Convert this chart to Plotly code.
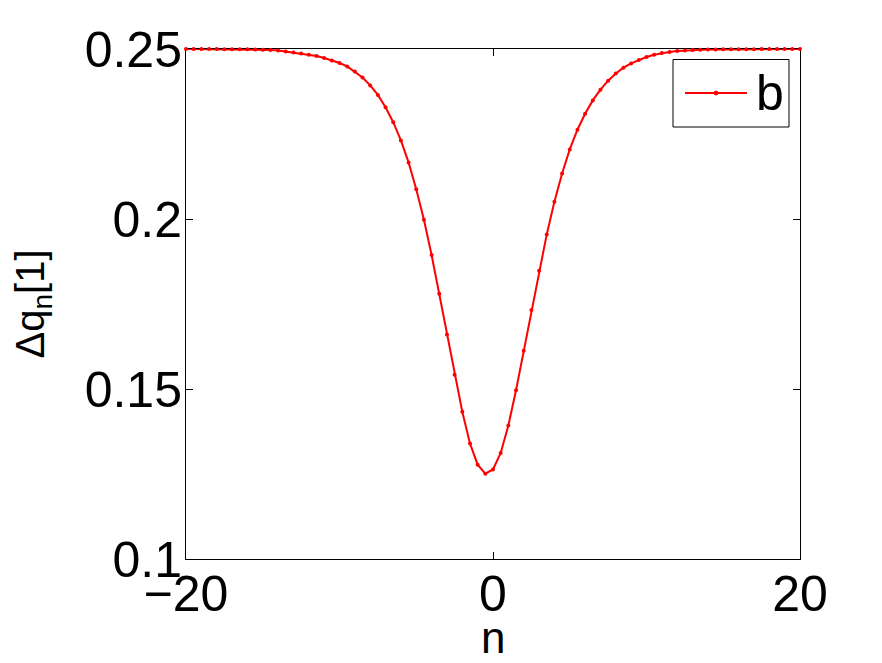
import plotly.graph_objects as go

# n values: -20 to 20 in steps of 0.5
n_vals = [i * 0.5 for i in range(-40, 41)]

dq_vals = [
    0.25000, 0.24999, 0.24999, 0.24998, 0.24997, 0.24996, 0.24994, 0.24992,  # -20 .. -16.5
    0.24989, 0.24985, 0.24979, 0.24971, 0.24959, 0.24929, 0.24900, 0.24871,  # -16 .. -12.5
    0.24832, 0.24794, 0.24735, 0.24665, 0.24588, 0.24488, 0.24338, 0.24162,  # -12 .. -8.5
    0.23929, 0.23650, 0.23288, 0.22847, 0.22312, 0.21665, 0.20876, 0.19979,  # -8 .. -4.5
    0.18941, 0.17803, 0.16603, 0.15421, 0.14332, 0.13400, 0.12774, 0.12509,  # -4 .. -0.5
    0.12635, 0.13118, 0.13929, 0.14965, 0.16126, 0.17324, 0.18479, 0.19547,  # 0 .. 3.5
    0.20509, 0.21341, 0.22047, 0.22626, 0.23097, 0.23488, 0.23803, 0.24068,  # 4 .. 7.5
    0.24282, 0.24450, 0.24576, 0.24676, 0.24765, 0.24832, 0.24882, 0.24912,  # 8 .. 11.5
    0.24941, 0.24956, 0.24968, 0.24976, 0.24982, 0.24986, 0.24989, 0.24991,  # 12 .. 15.5
    0.24993, 0.24995, 0.24996, 0.24997, 0.24998, 0.24998, 0.24999, 0.24999,  # 16 .. 19.5
    0.25000,                                                                 # 20
]

x_ticks = [-20, 0, 20]
y_ticks = [0.1, 0.15, 0.2, 0.25]
y_ticktext = ["0.1", "0.15", "0.2", "0.25"]
legend_label = "b"
x_title = "n"
y_title = "Δq<sub>n</sub>[1]"

FONT = "Liberation Sans, Arial, Helvetica, sans-serif"
RED = "#ff0000"

fig = go.Figure()
fig.add_trace(go.Scatter(
    x=n_vals, y=dq_vals, mode="lines+markers",
    line=dict(color=RED, width=2),
    marker=dict(color=RED, size=4),
    cliponaxis=False, showlegend=False, name=legend_label,
))

# page body has an 8px offset; margins compensate so the plot area sits
# at x 186..800, y 49..559 in the window
OFF = 8
W, H = 882, 663
L, R, T, B = 186 - OFF, 82 + OFF, 49 - OFF, 104 + OFF
pw, ph = W - L - R, H - T - B


def px(x):
    return (x - OFF - L) / pw


def py(y):
    return (H - B - (y - OFF)) / ph


# custom legend box (MATLAB style)
shapes = [
    dict(type="rect", xref="paper", yref="paper",
         x0=px(673), x1=px(789), y0=py(127), y1=py(59.5),
         line=dict(color="black", width=1), fillcolor="white", layer="above"),
    dict(type="line", xref="paper", yref="paper",
         x0=px(685), x1=px(747), y0=py(93), y1=py(93),
         line=dict(color=RED, width=2), layer="above"),
    dict(type="circle", xref="paper", yref="paper",
         x0=px(714), x1=px(718), y0=py(95), y1=py(91),
         line=dict(color=RED, width=1), fillcolor=RED, layer="above"),
]

annotations = [
    dict(text=legend_label, xref="paper", yref="paper", x=px(754), y=py(93),
         xanchor="left", yanchor="middle", showarrow=False,
         font=dict(family=FONT, size=50, color="black")),
    dict(text=x_title, xref="paper", yref="paper", x=0.5, y=py(637),
         xanchor="center", yanchor="middle", showarrow=False,
         font=dict(family=FONT, size=44, color="black")),
]

axis_common = dict(
    showline=True, linecolor="black", linewidth=1, mirror="ticks",
    ticks="inside", ticklen=7, tickcolor="black", tickwidth=1,
    showgrid=False, zeroline=False, layer="below traces",
    tickfont=dict(family=FONT, size=50, color="black"),
)

fig.update_layout(
    width=W, height=H,
    margin=dict(l=L, r=R, t=T, b=B, pad=0),
    paper_bgcolor="white", plot_bgcolor="white",
    font=dict(family=FONT, color="black"),
    shapes=shapes, annotations=annotations,
    xaxis=dict(range=[-20, 20], tickvals=x_ticks, ticklabelstandoff=-9,
               automargin=False, **axis_common),
    yaxis=dict(range=[0.1, 0.25], tickvals=y_ticks, ticktext=y_ticktext,
               ticklabelstandoff=-7,
               title=dict(text=y_title, font=dict(family=FONT, size=40), standoff=28),
               automargin=False, **axis_common),
)

fig.write_html("out.html")
